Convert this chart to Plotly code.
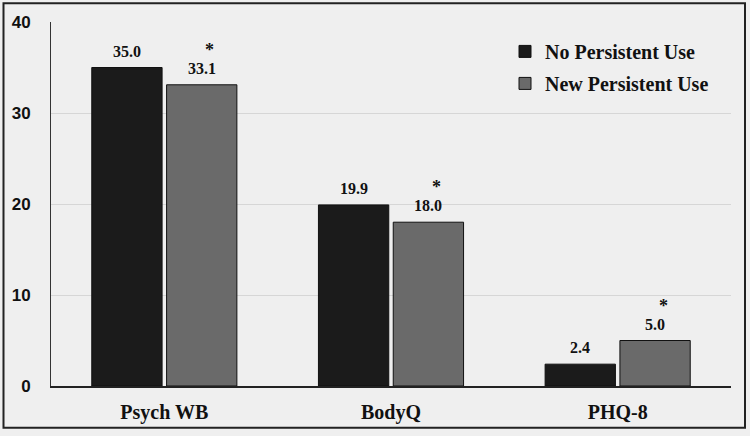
import plotly.graph_objects as go

categories = ["Psych WB", "BodyQ", "PHQ-8"]
no_persistent = [35.0, 19.9, 2.4]
new_persistent = [33.1, 18.0, 5.0]
series_names = ["No Persistent Use", "New Persistent Use"]
significant = ["*", "*", "*"]
y_ticks = [0, 10, 20, 30, 40]

W, H = 750, 436
ml, mr, mt, mb = 51, 19, 22, 47
pw, ph = W - ml - mr, H - mt - mb
bargap = 0.34
slot_off = pw / len(categories) * (1 - bargap) / 4  # half-slot offset of bar centres

serif = "Liberation Serif, Times New Roman, serif"
sans = "Liberation Sans, Arial, sans-serif"
lab_font = dict(family=serif, size=16, color="#111111", weight="bold")

fig = go.Figure()
fig.add_trace(go.Bar(
    x=categories, y=no_persistent, name=series_names[0], legendgroup="a",
    marker=dict(color="#1b1b1b", line=dict(color="#111111", width=1)),
))
fig.add_trace(go.Bar(
    x=categories, y=new_persistent, name=series_names[1], legendgroup="b",
    marker=dict(color="#6a6a6a", line=dict(color="#111111", width=1)),
))

# value labels
for c, v in zip(categories, no_persistent):
    fig.add_annotation(x=c, y=v, text=f"{v:.1f}", showarrow=False,
                       xshift=-slot_off, yshift=6, yanchor="bottom", font=lab_font)
for c, v, s in zip(categories, new_persistent, significant):
    fig.add_annotation(x=c, y=v, text=f"{v:.1f}", showarrow=False,
                       xshift=slot_off, yshift=6, yanchor="bottom", font=lab_font)
    fig.add_annotation(x=c, y=v, text=s, showarrow=False,
                       xshift=slot_off + 8, yshift=23, yanchor="bottom",
                       font=dict(family=serif, size=18, color="#111111", weight="bold"))

# outer frame
fig.add_shape(type="rect", xref="paper", yref="paper",
              x0=(3.5 - ml) / pw, x1=(745 - ml) / pw,
              y0=-(431 - (H - mb)) / ph, y1=1 + (mt - 3) / ph,
              line=dict(color="#222222", width=2), layer="above")

fig.update_layout(
    width=W, height=H,
    margin=dict(l=ml, r=mr, t=mt, b=mb),
    paper_bgcolor="#efefef", plot_bgcolor="#efefef",
    barmode="group", bargap=bargap, bargroupgap=0.06,
    showlegend=True,
    legend=dict(x=(505 - ml) / pw, y=1 - (32 - mt) / ph, xanchor="left", yanchor="top",
                bgcolor="rgba(0,0,0,0)", traceorder="grouped", tracegroupgap=3,
                itemwidth=30,
                font=dict(family=serif, size=20, color="#111111", weight="bold")),
    xaxis=dict(showline=True, linecolor="#222222", linewidth=1.5,
               tickfont=dict(family=serif, size=20, color="#111111", weight="bold"),
               ticks="", ticklabelstandoff=7),
    yaxis=dict(range=[0, 40], tickvals=y_ticks, showgrid=True,
               gridcolor="#d6d6d6", gridwidth=1,
               showline=True, linecolor="#333333", linewidth=1,
               zeroline=False,
               tickfont=dict(family=sans, size=17, color="#111111", weight="bold"),
               ticks="", ticklabelstandoff=16),
)

fig.write_html("out.html", config={"displayModeBar": False},
               post_script="document.body.style.margin='0';")
